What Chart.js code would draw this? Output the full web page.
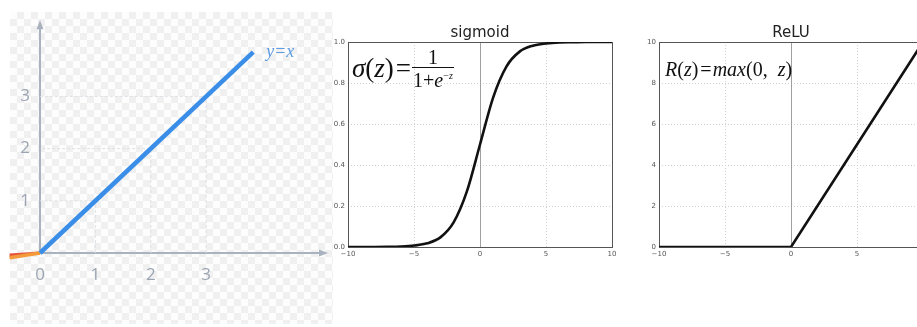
<!DOCTYPE html>
<html>
<head>
<meta charset="utf-8">
<title>activation functions</title>
<script src="https://cdn.jsdelivr.net/npm/chart.js@4.4.1/dist/chart.umd.min.js"></script>
<style>
  body { margin: 0; width: 917px; height: 327px; overflow: hidden; background: #fff; position: relative; }
  .checker {
    position: absolute; left: 10px; top: 12px; width: 323px; height: 312px;
    background-color: #fdfdfd;
    background-image: conic-gradient(#f0f0f0 25%, transparent 0 50%, #f0f0f0 0 75%, transparent 0);
    background-size: 14px 14px;
  }
  canvas { position: absolute; top: 0; }
  #idChart { left: 0; }
  #sigChart { left: 325px; }
  #reluChart { left: 625px; }
  .formula {
    position: absolute; display: flex; align-items: center; color: #111;
    font-family: "Liberation Serif", "DejaVu Serif", serif; font-size: 27px; white-space: pre;
  }
  .frac { display: inline-flex; flex-direction: column; align-items: center; font-size: 20px; line-height: 1.0; margin-left: 1px; }
  .frac .den { border-top: 1px solid #111; padding: 2px 1px 0; }
  .frac sup { font-size: 10px; }
</style>
</head>
<body>
<div class="checker"></div>
<canvas id="idChart" width="335" height="327"></canvas>
<canvas id="sigChart" width="300" height="327"></canvas>
<canvas id="reluChart" width="320" height="327"></canvas>

<div class="formula" style="left:352px; top:47px;"><i>σ</i>(<i>z</i>)<span style="margin-left:2px">=</span><span class="frac"><span>1</span><span class="den">1+<i>e</i><sup>−<i>z</i></sup></span></span></div>
<div class="formula" style="left:665px; top:58px; font-size:20px;"><i>R</i>(<i>z</i>)<span style="margin:0 1px 0 2px">=</span><i>max</i>(0,  <i>z</i>)</div>

<script>
// identity line y = x, plus the short negative-side piece left of the origin
const idX = [0, 3.85];
const idY = [0, 3.85];
const negX = [-0.55, 0];
const negY = [-0.09, 0];
const redY = [-0.04, 0];
const idTicksX = [0, 1, 2, 3];
const idTicksY = [1, 2, 3];

// sigmoid, read at every integer z
const zVals = [-10, -9, -8, -7, -6, -5, -4, -3, -2, -1, 0, 1, 2, 3, 4, 5, 6, 7, 8, 9, 10];
const sigVals = [0.0, 0.0001, 0.0003, 0.001, 0.0025, 0.007, 0.018, 0.047, 0.12, 0.27, 0.5,
                 0.73, 0.88, 0.953, 0.982, 0.993, 0.998, 0.999, 1.0, 1.0, 1.0];
const sigTicksY = [0, 0.2, 0.4, 0.6, 0.8, 1.0];

// ReLU
const reluX = [-10, 0, 10];
const reluY = [0, 0, 10];
const reluTicksY = [0, 2, 4, 6, 8, 10];
const zTicks = [-10, -5, 0, 5, 10];

const pts = (xs, ys) => xs.map((x, i) => ({ x: x, y: ys[i] }));
const setTicks = vals => scale => { scale.ticks = vals.map(v => ({ value: v })); };

const axisColor = '#a9b3bf';

// arrowed axes through the origin and the "y=x" tag
const identityAxes = {
  id: 'identityAxes',
  beforeDatasetsDraw(chart) {
    const { ctx, chartArea: a, scales: { x, y } } = chart;
    const ox = x.getPixelForValue(0), oy = y.getPixelForValue(0);
    ctx.save();
    ctx.strokeStyle = axisColor;
    ctx.fillStyle = axisColor;
    ctx.lineWidth = 2;
    ctx.beginPath();
    ctx.moveTo(ox, oy); ctx.lineTo(a.right - 6, oy);
    ctx.moveTo(ox, oy); ctx.lineTo(ox, a.top + 6);
    ctx.stroke();
    ctx.beginPath();
    ctx.moveTo(a.right, oy); ctx.lineTo(a.right - 9, oy - 3.5); ctx.lineTo(a.right - 9, oy + 3.5);
    ctx.closePath(); ctx.fill();
    ctx.beginPath();
    ctx.moveTo(ox, a.top); ctx.lineTo(ox - 3.5, a.top + 9); ctx.lineTo(ox + 3.5, a.top + 9);
    ctx.closePath(); ctx.fill();
    ctx.restore();
  },
  afterDatasetsDraw(chart) {
    const { ctx, scales: { x, y } } = chart;
    const n = idX.length - 1;
    ctx.save();
    ctx.font = 'italic 18px "Liberation Serif", serif';
    ctx.fillStyle = '#5e9de4';
    ctx.textBaseline = 'middle';
    ctx.fillText('y=x', x.getPixelForValue(idX[n]) + 13, y.getPixelForValue(idY[n]));
    ctx.restore();
  }
};

new Chart(document.getElementById('idChart'), {
  type: 'line',
  data: {
    datasets: [
      { data: pts(idX, idY), borderColor: '#3b8ee8', borderWidth: 4.5, pointRadius: 0, clip: false, order: 0 },
      { data: pts(negX, negY), borderColor: '#f39a3a', borderWidth: 3.5, pointRadius: 0, clip: false, order: 1 },
      { data: pts(negX, redY), borderColor: '#e4533c', borderWidth: 3, pointRadius: 0, clip: false, order: 2 },
      ...idTicksY.map(t => ({
        data: [{ x: t, y: 0 }, { x: t, y: t }, { x: 0, y: t }],
        borderColor: '#dde1e6', borderWidth: 1, borderDash: [3, 2], pointRadius: 0, order: 3
      }))
    ]
  },
  options: {
    responsive: false,
    animation: false,
    layout: { padding: { top: 12, right: 7, left: 0, bottom: 0 } },
    plugins: { legend: { display: false }, tooltip: { enabled: false } },
    scales: {
      x: {
        type: 'linear', min: 0, max: 5.2,
        grid: { display: false, drawTicks: false },
        border: { display: false },
        afterBuildTicks: setTicks(idTicksX),
        afterFit: s => { s.height = 74; },
        ticks: { color: '#9ba5b1', padding: 12, font: { family: '"Open Sans", sans-serif', size: 17 } }
      },
      y: {
        type: 'linear', min: 0, max: 4.46,
        grid: { display: false, drawTicks: false },
        border: { display: false },
        afterBuildTicks: setTicks(idTicksY),
        afterFit: s => { s.width = 40; },
        ticks: { color: '#9ba5b1', padding: 10, font: { family: '"Open Sans", sans-serif', size: 17 } }
      }
    }
  },
  plugins: [identityAxes]
});

// matplotlib-style box: solid line at z = 0 and a frame round the plot
const boxFrame = {
  id: 'boxFrame',
  beforeDatasetsDraw(chart) {
    const { ctx, chartArea: a, scales: { x } } = chart;
    const zx = Math.round(x.getPixelForValue(0)) + 0.5;
    ctx.save();
    ctx.setLineDash([]);
    ctx.strokeStyle = '#a0a0a0';
    ctx.lineWidth = 1;
    ctx.beginPath();
    ctx.moveTo(zx, a.top); ctx.lineTo(zx, a.bottom);
    ctx.stroke();
    ctx.strokeStyle = '#555';
    ctx.strokeRect(Math.round(a.left) + 0.5, Math.round(a.top) + 0.5,
                   Math.round(a.right - a.left), Math.round(a.bottom - a.top));
    ctx.restore();
  }
};

function panel(canvasId, title, xs, ys, yTicks, yMax, yWidth, padRight, fmt, smooth) {
  const tickFont = { family: '"DejaVu Sans", sans-serif', size: 7 };
  return new Chart(document.getElementById(canvasId), {
    type: 'line',
    data: {
      datasets: [{
        data: pts(xs, ys), borderColor: '#111', borderWidth: 2.6, pointRadius: 0,
        cubicInterpolationMode: smooth ? 'monotone' : 'default', tension: 0
      }]
    },
    options: {
      responsive: false,
      animation: false,
      layout: { padding: { top: 24, right: padRight, left: 0, bottom: 0 } },
      plugins: {
        legend: { display: false },
        tooltip: { enabled: false },
        title: {
          display: true, text: title, fullSize: false, color: '#222',
          padding: { top: 0, bottom: 0 },
          font: { family: '"DejaVu Sans", sans-serif', size: 15, weight: 'normal' }
        }
      },
      scales: {
        x: {
          type: 'linear', min: -10, max: 10,
          grid: { color: '#cfcfcf', drawTicks: false },
          border: { display: false, dash: [1, 2] },
          afterBuildTicks: setTicks(zTicks),
          afterFit: s => { s.height = 80; },
          ticks: { color: '#555', padding: 3, font: tickFont, callback: v => v < 0 ? '\u2212' + Math.abs(v) : v }
        },
        y: {
          type: 'linear', min: 0, max: yMax,
          grid: { color: '#cfcfcf', drawTicks: false },
          border: { display: false, dash: [1, 2] },
          afterBuildTicks: setTicks(yTicks),
          afterFit: s => { s.width = yWidth; },
          ticks: { color: '#555', padding: 3, font: tickFont, callback: fmt }
        }
      }
    },
    plugins: [boxFrame]
  });
}

panel('sigChart', 'sigmoid', zVals, sigVals, sigTicksY, 1.0, 23, 13, v => v.toFixed(1), true);
panel('reluChart', 'ReLU', reluX, reluY, reluTicksY, 10, 34, 22, v => String(v), false);
</script>
</body>
</html>
